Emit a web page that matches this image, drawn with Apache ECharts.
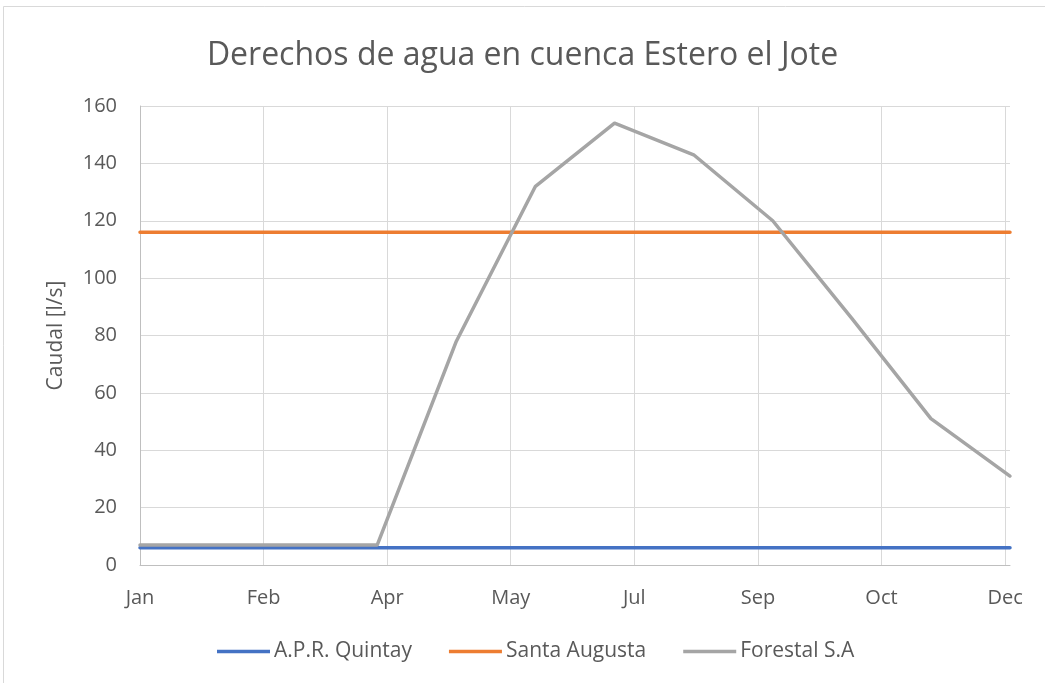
<!DOCTYPE html>
<html>
<head>
<meta charset="utf-8">
<script src="https://cdn.jsdelivr.net/npm/echarts@6/dist/echarts.min.js"></script>
<style>
  html, body { margin: 0; padding: 0; background: #ffffff; }
  #main { width: 1045px; height: 683px; }
</style>
</head>
<body>
<div id="main"></div>
<script>
// dias desde el inicio del eje (un punto por mes)
const days = [0, 32, 64, 96, 128, 160, 192, 224, 256, 288, 320, 352]
// caudales [l/s]
const quintay = [6, 6, 6, 6, 6, 6, 6, 6, 6, 6, 6, 6]
const santaAugusta = [116, 116, 116, 116, 116, 116, 116, 116, 116, 116, 116, 116]
const forestal = [7, 7, 7, 7, 78, 132, 154, 143, 120, 86, 51, 31]
// etiquetas del eje x (cada 50 dias)
const xLabels = ['Jan', 'Feb', 'Apr', 'May', 'Jul', 'Sep', 'Oct', 'Dec']

const font = 'Open Sans'
const textColor = '#595959'

const pairs = (vals) => days.map((d, i) => [d, vals[i]])

const chart = echarts.init(document.getElementById('main'))

const option = {
    backgroundColor: '#ffffff',
    animation: false,
    textStyle: { fontFamily: font },
    // marco del grafico
    graphic: [{
        type: 'rect',
        shape: { x: 3.5, y: 6.5, width: 1100, height: 1000 },
        style: { fill: 'none', stroke: '#d9d9d9', lineWidth: 1 },
        silent: true
    }],
    title: {
        text: 'Derechos de agua en cuenca Estero el Jote',
        left: 'center',
        top: 35,
        textStyle: {
            fontFamily: font,
            fontSize: 32,
            fontWeight: 'normal',
            color: textColor
        }
    },
    legend: {
        top: 641,
        left: 217,
        padding: 0,
        itemWidth: 53,
        itemHeight: 3.5,
        itemGap: 37,
        icon: 'rect',
        textStyle: {
            fontFamily: font,
            fontSize: 21,
            color: textColor,
            padding: [0, 0, 0, -1]
        },
        data: ['A.P.R. Quintay', 'Santa Augusta', 'Forestal S.A']
    },
    grid: {
        left: 140,
        right: 35,
        top: 106,
        bottom: 118
    },
    xAxis: {
        type: 'value',
        min: 0,
        max: 352,
        interval: 50,
        axisLine: { show: true, lineStyle: { color: '#bfbfbf', width: 1 } },
        axisTick: { show: false },
        splitLine: {
            show: true,
            showMaxLine: false,
            lineStyle: { color: '#d9d9d9', width: 1 }
        },
        axisLabel: {
            color: textColor,
            fontSize: 20,
            margin: 23,
            showMaxLabel: false,
            formatter: (v) => (v % 50 === 0 ? xLabels[v / 50] : '')
        }
    },
    yAxis: {
        type: 'value',
        min: 0,
        max: 160,
        interval: 20,
        name: 'Caudal [l/s]',
        nameLocation: 'middle',
        nameGap: 73,
        nameTextStyle: {
            fontFamily: font,
            fontSize: 21,
            color: textColor
        },
        axisLine: { show: true, lineStyle: { color: '#bfbfbf', width: 1 } },
        axisTick: { show: false },
        splitLine: { lineStyle: { color: '#d9d9d9', width: 1 } },
        axisLabel: {
            color: textColor,
            fontSize: 20,
            margin: 23
        }
    },
    series: [{
        name: 'A.P.R. Quintay',
        type: 'line',
        showSymbol: false,
        lineStyle: { width: 3.5, color: '#4472c4', cap: 'round' },
        itemStyle: { color: '#4472c4' },
        data: pairs(quintay)
    },
        {
            name: 'Santa Augusta',
            type: 'line',
            showSymbol: false,
            lineStyle: { width: 3.5, color: '#ed7d31', cap: 'round' },
            itemStyle: { color: '#ed7d31' },
            data: pairs(santaAugusta)
        },
        {
            name: 'Forestal S.A',
            type: 'line',
            showSymbol: false,
            lineStyle: { width: 3.5, color: '#a5a5a5', cap: 'round', join: 'round' },
            itemStyle: { color: '#a5a5a5' },
            data: pairs(forestal)
        }
    ]
}

chart.setOption(option)
</script>
</body>
</html>
